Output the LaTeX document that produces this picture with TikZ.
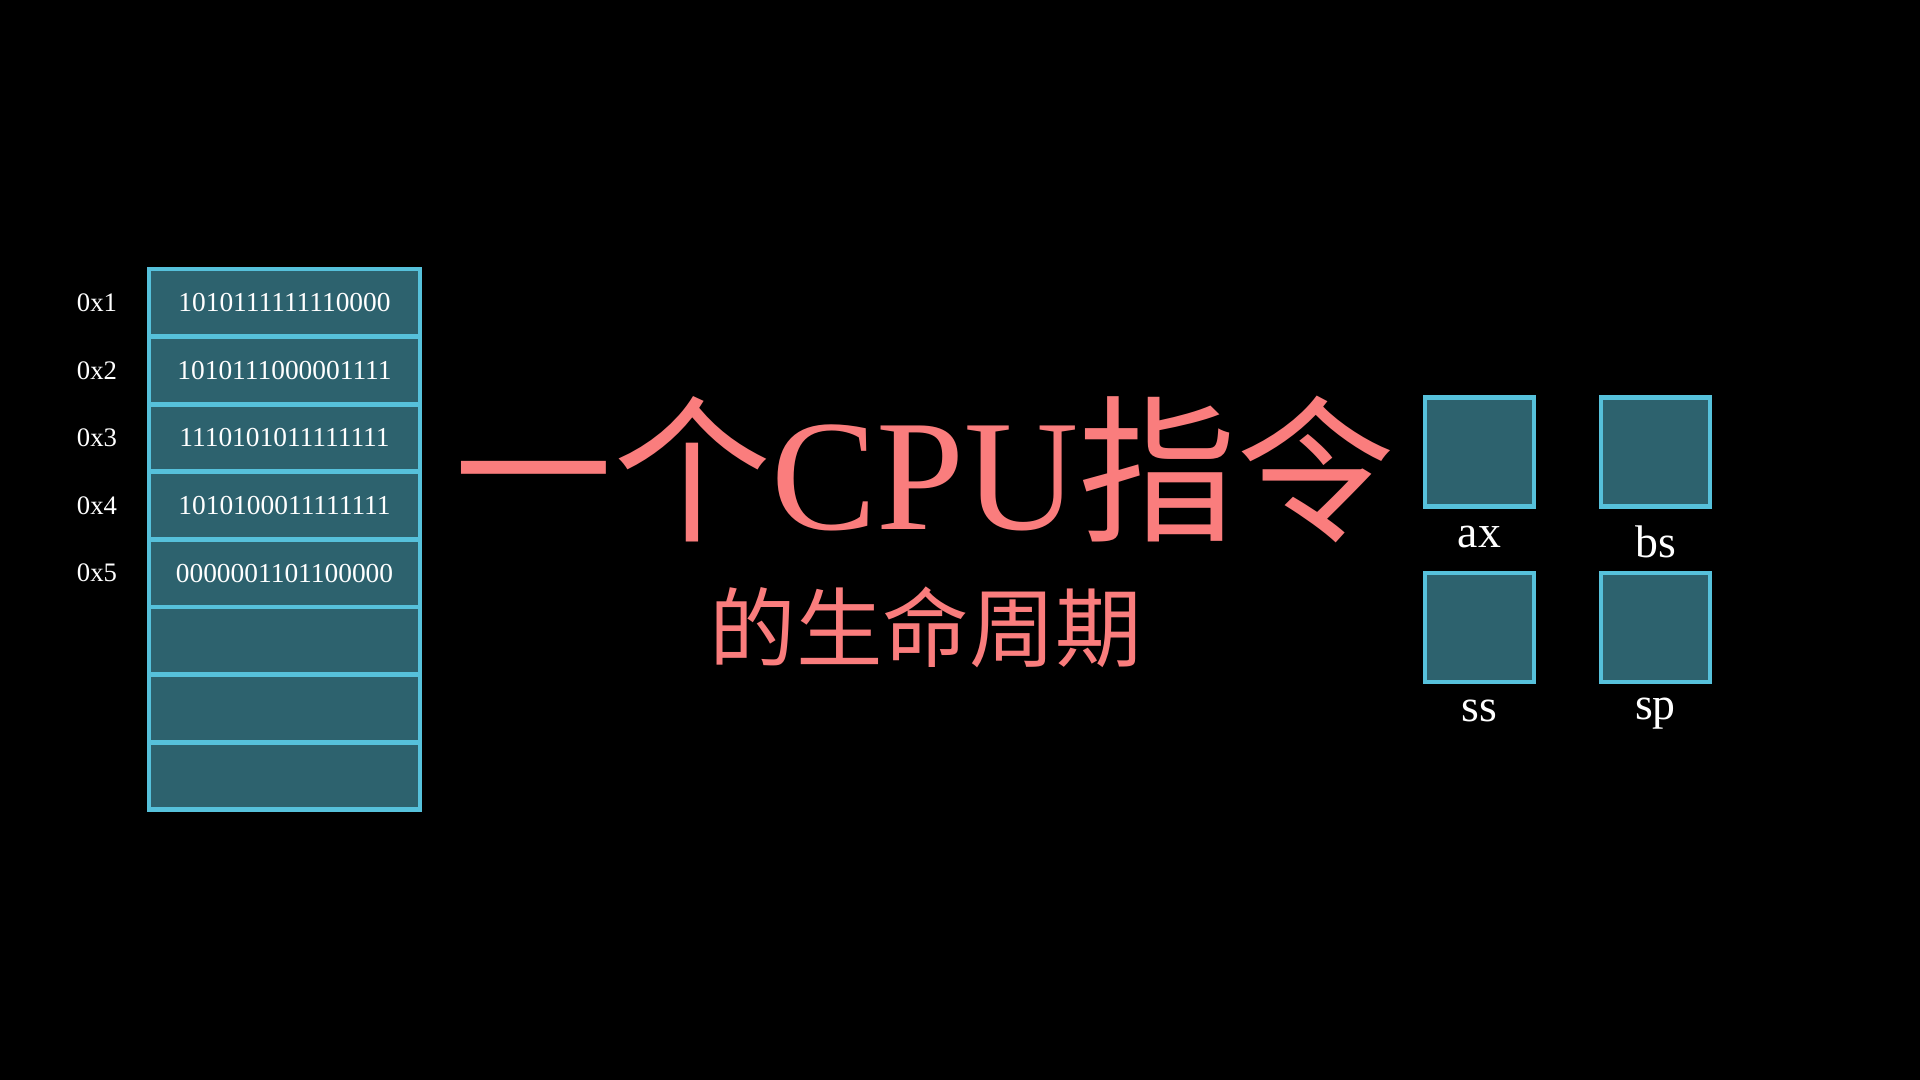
\documentclass[tikz,border=0pt]{standalone}
\usepackage{fontspec}
\setmainfont{Liberation Serif}
\newfontfamily\cjk{Noto Sans CJK SC}
\usetikzlibrary{positioning}
\definecolor{cellfill}{RGB}{45,98,110}
\definecolor{cellline}{RGB}{86,193,219}
\definecolor{titlepink}{RGB}{250,125,125}
\tikzset{
  mcell/.style  = {draw=cellline, fill=cellfill, line width=1.4pt, text=white,
                   minimum width=2.71cm, minimum height=0.676cm, inner sep=0pt,
                   font=\fontsize{7.8}{9}\selectfont},
  maddr/.style  = {text=white, font=\fontsize{7.6}{9}\selectfont},
  % registers: square boxes, name printed underneath
  mreg/.style   = {mcell, minimum width=1.09cm, minimum height=1.09cm},
  regname/.style= {text=white, anchor=base, font=\fontsize{13}{15}\selectfont},
  mtitle/.style = {text=titlepink, font=\fontsize{45}{50}\selectfont},
}

\begin{document}
\begin{tikzpicture}
    \fill[black] (0,0) rectangle (19.2,10.8);

    \node[mcell] (m1) at (2.845, 7.772) {1010111111110000};
    \node[mcell] (m2) at (2.845, 7.096) {1010111000001111};
    \node[mcell] (m3) at (2.845, 6.420) {1110101011111111};
    \node[mcell] (m4) at (2.845, 5.744) {1010100011111111};
    \node[mcell] (m5) at (2.845, 5.068) {0000001101100000};
    \node[mcell] (m6) at (2.845, 4.392) {};
    \node[mcell] (m7) at (2.845, 3.716) {};
    \node[mcell] (m8) at (2.845, 3.040) {};

    \node[maddr] (a1) at (0.97, 7.772) {0x1};
    \node[maddr] (a2) at (0.97, 7.096) {0x2};
    \node[maddr] (a3) at (0.97, 6.420) {0x3};
    \node[maddr] (a4) at (0.97, 5.744) {0x4};
    \node[maddr] (a5) at (0.97, 5.068) {0x5};

    \node[mtitle, anchor=base] (title) at (9.25, 5.50)
        {{\cjk 一个}CPU{\cjk 指令}};
    \node[mtitle, font=\fontsize{24.6}{28}\selectfont\cjk] (sub) at (9.26, 4.53)
        {的生命周期};

    \node[mreg] (ax) at (14.795, 6.28) {};
    \node[mreg] (bs) at (16.555, 6.28) {};
    \node[mreg] (ss) at (14.795, 4.525) {};
    \node[mreg] (sp) at (16.555, 4.525) {};

    \node[regname] (axn) at (14.795, 5.32) {ax};
    \node[regname] (bsn) at (16.555, 5.22) {bs};
    \node[regname] (ssn) at (14.795, 3.58) {ss};
    \node[regname] (spn) at (16.555, 3.60) {sp};
  \end{tikzpicture}
\end{document}
